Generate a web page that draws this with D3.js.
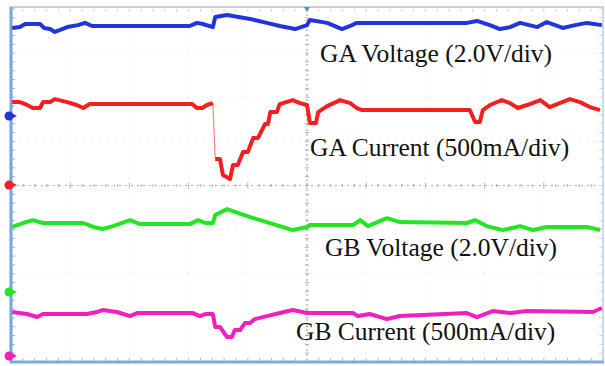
<!DOCTYPE html>
<html>
<head>
<meta charset="utf-8">
<script src="https://cdn.jsdelivr.net/npm/d3@7"></script>
<style>
  html, body { margin: 0; padding: 0; background: #ffffff; }
  svg { display: block; }
</style>
</head>
<body>
<svg id="scope" width="605" height="366"></svg>
<script>
// Time positions are in screen divisions (0..10).
// GA gate voltage (V)
const gaVoltageTime = [0.02,0.15,0.24,0.49,0.56,0.66,0.74,0.83,0.95,1.13,1.25,1.37,3.02,3.14,3.24,3.41,3.45,3.65,4.04,4.32,4.54,4.80,5.00,5.05,5.34,5.59,5.73,5.84,7.70,7.87,8.09,8.26,8.43,8.60,8.89,9.05,9.32,9.53,9.73,9.98];
const gaVoltage     = [3.99,4.03,4.17,4.17,3.99,3.94,3.81,3.90,4.03,4.12,4.22,4.08,4.08,4.22,4.17,4.03,4.49,4.58,4.40,4.22,4.08,3.94,4.12,4.35,4.22,3.94,4.08,4.22,4.22,4.31,4.12,3.94,4.03,4.22,4.03,4.26,3.99,4.12,4.22,4.12];

// GA current (mA)
const gaCurrentTime = [0.02,0.15,0.24,0.37,0.49,0.54,0.66,0.74,0.95,1.11,1.22,1.33,3.06,3.14,3.23,3.31,3.41,3.45,3.53,3.58,3.70,3.75,3.83,3.92,4.00,4.09,4.17,4.29,4.34,4.38,4.49,4.54,4.76,4.88,5.00,5.05,5.15,5.19,5.34,5.56,5.73,5.84,5.93,7.75,7.84,7.92,7.97,8.09,8.29,8.43,8.56,8.72,8.94,9.10,9.27,9.44,9.61,9.78,9.95];
const gaCurrent     = [940,940,918,873,873,940,940,974,940,907,873,918,918,873,873,907,929,295,295,113,68,227,227,374,374,532,532,691,691,827,827,918,963,929,907,702,702,827,895,963,929,873,850,850,714,714,850,907,963,929,873,907,963,884,929,974,940,884,850];

// GB gate voltage (V)
const gbVoltageTime = [0.02,0.20,0.37,0.54,1.22,1.39,1.55,1.72,2.01,2.18,3.02,3.16,3.28,3.41,3.45,3.65,4.04,4.32,4.76,5.00,5.05,5.78,5.90,6.03,6.35,6.57,7.70,7.84,8.04,8.31,8.60,8.82,9.05,9.73,9.95];
const gbVoltage     = [2.95,3.13,3.26,3.13,3.13,2.95,2.86,2.99,3.26,3.08,3.08,3.26,3.13,3.13,3.49,3.76,3.40,3.17,2.81,2.95,3.04,3.04,3.26,2.99,3.35,3.17,3.13,3.26,2.99,2.81,2.99,2.81,2.95,2.95,2.81];

// GB current (mA)
const gbCurrentTime = [0.02,0.27,0.44,0.54,1.28,1.45,1.55,1.79,2.01,2.13,3.07,3.19,3.28,3.41,3.45,3.53,3.65,3.73,3.78,3.87,3.95,4.04,4.12,4.32,4.54,4.76,5.00,5.78,5.86,6.06,6.35,6.57,7.70,7.87,8.14,8.43,8.72,9.83,9.98];
const gbCurrent     = [499,476,442,476,476,499,521,499,453,487,487,453,476,476,329,329,215,215,295,295,374,374,419,453,487,521,487,487,453,476,419,453,487,442,510,487,510,499,544];

// Channel settings: scale per division and the ground marker position (in divisions from centre)
const channels = [
  { label: "GA Voltage (2.0V/div)",   color: "#2235d8", perDiv: 2.0, offsetDiv: 1.575,  time: gaVoltageTime, values: gaVoltage, labelX: 320, labelY: 62 },
  { label: "GA Current (500mA/div)",  color: "#f41f1f", perDiv: 500, offsetDiv: 0.01,   time: gaCurrentTime, values: gaCurrent, labelX: 310, labelY: 156 },
  { label: "GB Voltage (2.0V/div)",   color: "#24e524", perDiv: 2.0, offsetDiv: -2.415, time: gbVoltageTime, values: gbVoltage, labelX: 325, labelY: 256 },
  { label: "GB Current (500mA/div)",  color: "#f01fc0", perDiv: 500, offsetDiv: -3.865, time: gbCurrentTime, values: gbCurrent, labelX: 296, labelY: 340 }
];

const svg = d3.select("#scope");
const scrLeft = 11, scrRight = 603, scrTop = 9, scrBottom = 362;

const x = d3.scaleLinear().domain([0, 10]).range([scrLeft, scrRight]);
const yDiv = d3.scaleLinear().domain([-4, 4]).range([scrBottom, scrTop]);

// Graticule: faint dotted division lines
const grid = svg.append("g");
d3.range(1, 10).filter(d => d !== 5).forEach(d => {
  grid.append("line").attr("x1", x(d)).attr("x2", x(d)).attr("y1", scrTop).attr("y2", scrBottom)
    .attr("stroke", "#dedede").attr("stroke-width", 1).attr("stroke-dasharray", "1,7");
});
d3.range(-3, 4).filter(d => d !== 0).forEach(d => {
  grid.append("line").attr("x1", scrLeft).attr("x2", scrRight).attr("y1", yDiv(d)).attr("y2", yDiv(d))
    .attr("stroke", "#dedede").attr("stroke-width", 1).attr("stroke-dasharray", "1,7");
});

// Centre cross with minor ticks
grid.append("line").attr("x1", x(5)).attr("x2", x(5)).attr("y1", scrTop).attr("y2", scrBottom)
  .attr("stroke", "#9a9a9a").attr("stroke-width", 1).attr("stroke-dasharray", "2,3");
grid.append("line").attr("x1", scrLeft).attr("x2", scrRight).attr("y1", yDiv(0)).attr("y2", yDiv(0))
  .attr("stroke", "#a8a8a8").attr("stroke-width", 1).attr("stroke-dasharray", "2,4");
d3.range(0, 10.01, 0.2).forEach(d => {
  const major = Math.abs(d - Math.round(d)) < 1e-6;
  grid.append("line").attr("x1", x(d)).attr("x2", x(d))
    .attr("y1", yDiv(0) - (major ? 3 : 1.5)).attr("y2", yDiv(0) + (major ? 3 : 1.5))
    .attr("stroke", "#b0b0b0").attr("stroke-width", 1);
  // bottom and top edge ticks
  grid.append("line").attr("x1", x(d)).attr("x2", x(d)).attr("y1", scrBottom - 4).attr("y2", scrBottom)
    .attr("stroke", "#9fb9d6").attr("stroke-width", 1);
  grid.append("line").attr("x1", x(d)).attr("x2", x(d)).attr("y1", scrTop).attr("y2", scrTop + 3)
    .attr("stroke", "#c9d5e2").attr("stroke-width", 1);
});
d3.range(-4, 4.01, 0.2).forEach(d => {
  grid.append("line").attr("x1", x(5) - 2).attr("x2", x(5) + 2).attr("y1", yDiv(d)).attr("y2", yDiv(d))
    .attr("stroke", "#b0b0b0").attr("stroke-width", 1);
  grid.append("line").attr("x1", scrLeft).attr("x2", scrLeft + 4).attr("y1", yDiv(d)).attr("y2", yDiv(d))
    .attr("stroke", "#8fb2dc").attr("stroke-width", 1);
  grid.append("line").attr("x1", scrRight - 4).attr("x2", scrRight).attr("y1", yDiv(d)).attr("y2", yDiv(d))
    .attr("stroke", "#c4d6ea").attr("stroke-width", 1);
});

// Screen frame
svg.append("line").attr("x1", scrLeft - 1).attr("x2", scrRight + 1).attr("y1", 7).attr("y2", 7)
  .attr("stroke", "#cfcfcf").attr("stroke-width", 2);
svg.append("line").attr("x1", scrRight).attr("x2", scrRight).attr("y1", 7).attr("y2", scrBottom)
  .attr("stroke", "#b9d0ea").attr("stroke-width", 1.5);
svg.append("line").attr("x1", scrLeft - 1).attr("x2", scrRight + 1).attr("y1", scrBottom).attr("y2", scrBottom)
  .attr("stroke", "#86a9d2").attr("stroke-width", 3);
svg.append("line").attr("x1", scrLeft).attr("x2", scrLeft).attr("y1", 7).attr("y2", scrBottom + 1)
  .attr("stroke", "#77a6dc").attr("stroke-width", 3);

// Trigger position marker
svg.append("path")
  .attr("d", `M${x(5) - 3},7 L${x(5) + 3},7 L${x(5)},12 Z`)
  .attr("fill", "#4f8fe0");

// Traces: slow parts drawn bold, fast edges drawn as a faint thin line
const traces = svg.append("g");
channels.forEach(ch => {
  const y = d3.scaleLinear()
    .domain([(-4 - ch.offsetDiv) * ch.perDiv, (4 - ch.offsetDiv) * ch.perDiv])
    .range([scrBottom, scrTop]);
  const pts = ch.time.map((t, i) => [x(t), y(ch.values[i])]);
  const isEdge = (a, b) => Math.abs(b[1] - a[1]) > 25 && Math.abs(b[1] - a[1]) > 4 * Math.abs(b[0] - a[0]);

  // split into runs of slow segments
  const runs = [];
  let run = [pts[0]];
  for (let i = 1; i < pts.length; i++) {
    if (isEdge(pts[i - 1], pts[i])) {
      traces.append("line")
        .attr("x1", pts[i - 1][0]).attr("y1", pts[i - 1][1])
        .attr("x2", pts[i][0]).attr("y2", pts[i][1])
        .attr("stroke", ch.color).attr("stroke-width", 1.2).attr("stroke-opacity", 0.55);
      runs.push(run);
      run = [pts[i]];
    } else {
      run.push(pts[i]);
    }
  }
  runs.push(run);

  const line = d3.line();
  runs.forEach(r => {
    traces.append("path")
      .attr("d", r.length > 1 ? line(r) : line([r[0], [r[0][0] + 2, r[0][1]]]))
      .attr("fill", "none")
      .attr("stroke", ch.color)
      .attr("stroke-width", 4)
      .attr("stroke-linejoin", "round")
      .attr("stroke-linecap", "butt");
  });
  ch.groundY = y(0);
});

// Channel ground markers on the left edge
channels.forEach(ch => {
  const g = svg.append("g").attr("transform", `translate(9,${ch.groundY})`);
  g.append("path").attr("d", "M3,-2.5 L8,0 L3,2.5 Z").attr("fill", ch.color);
  g.append("circle").attr("r", 4.5).attr("fill", ch.color);
});

// Channel labels
channels.forEach(ch => {
  svg.append("text")
    .attr("x", ch.labelX).attr("y", ch.labelY)
    .attr("font-family", "'Liberation Serif', 'Times New Roman', serif")
    .attr("font-size", 25.5)
    .attr("fill", "#111")
    .text(ch.label);
});
</script>
</body>
</html>
